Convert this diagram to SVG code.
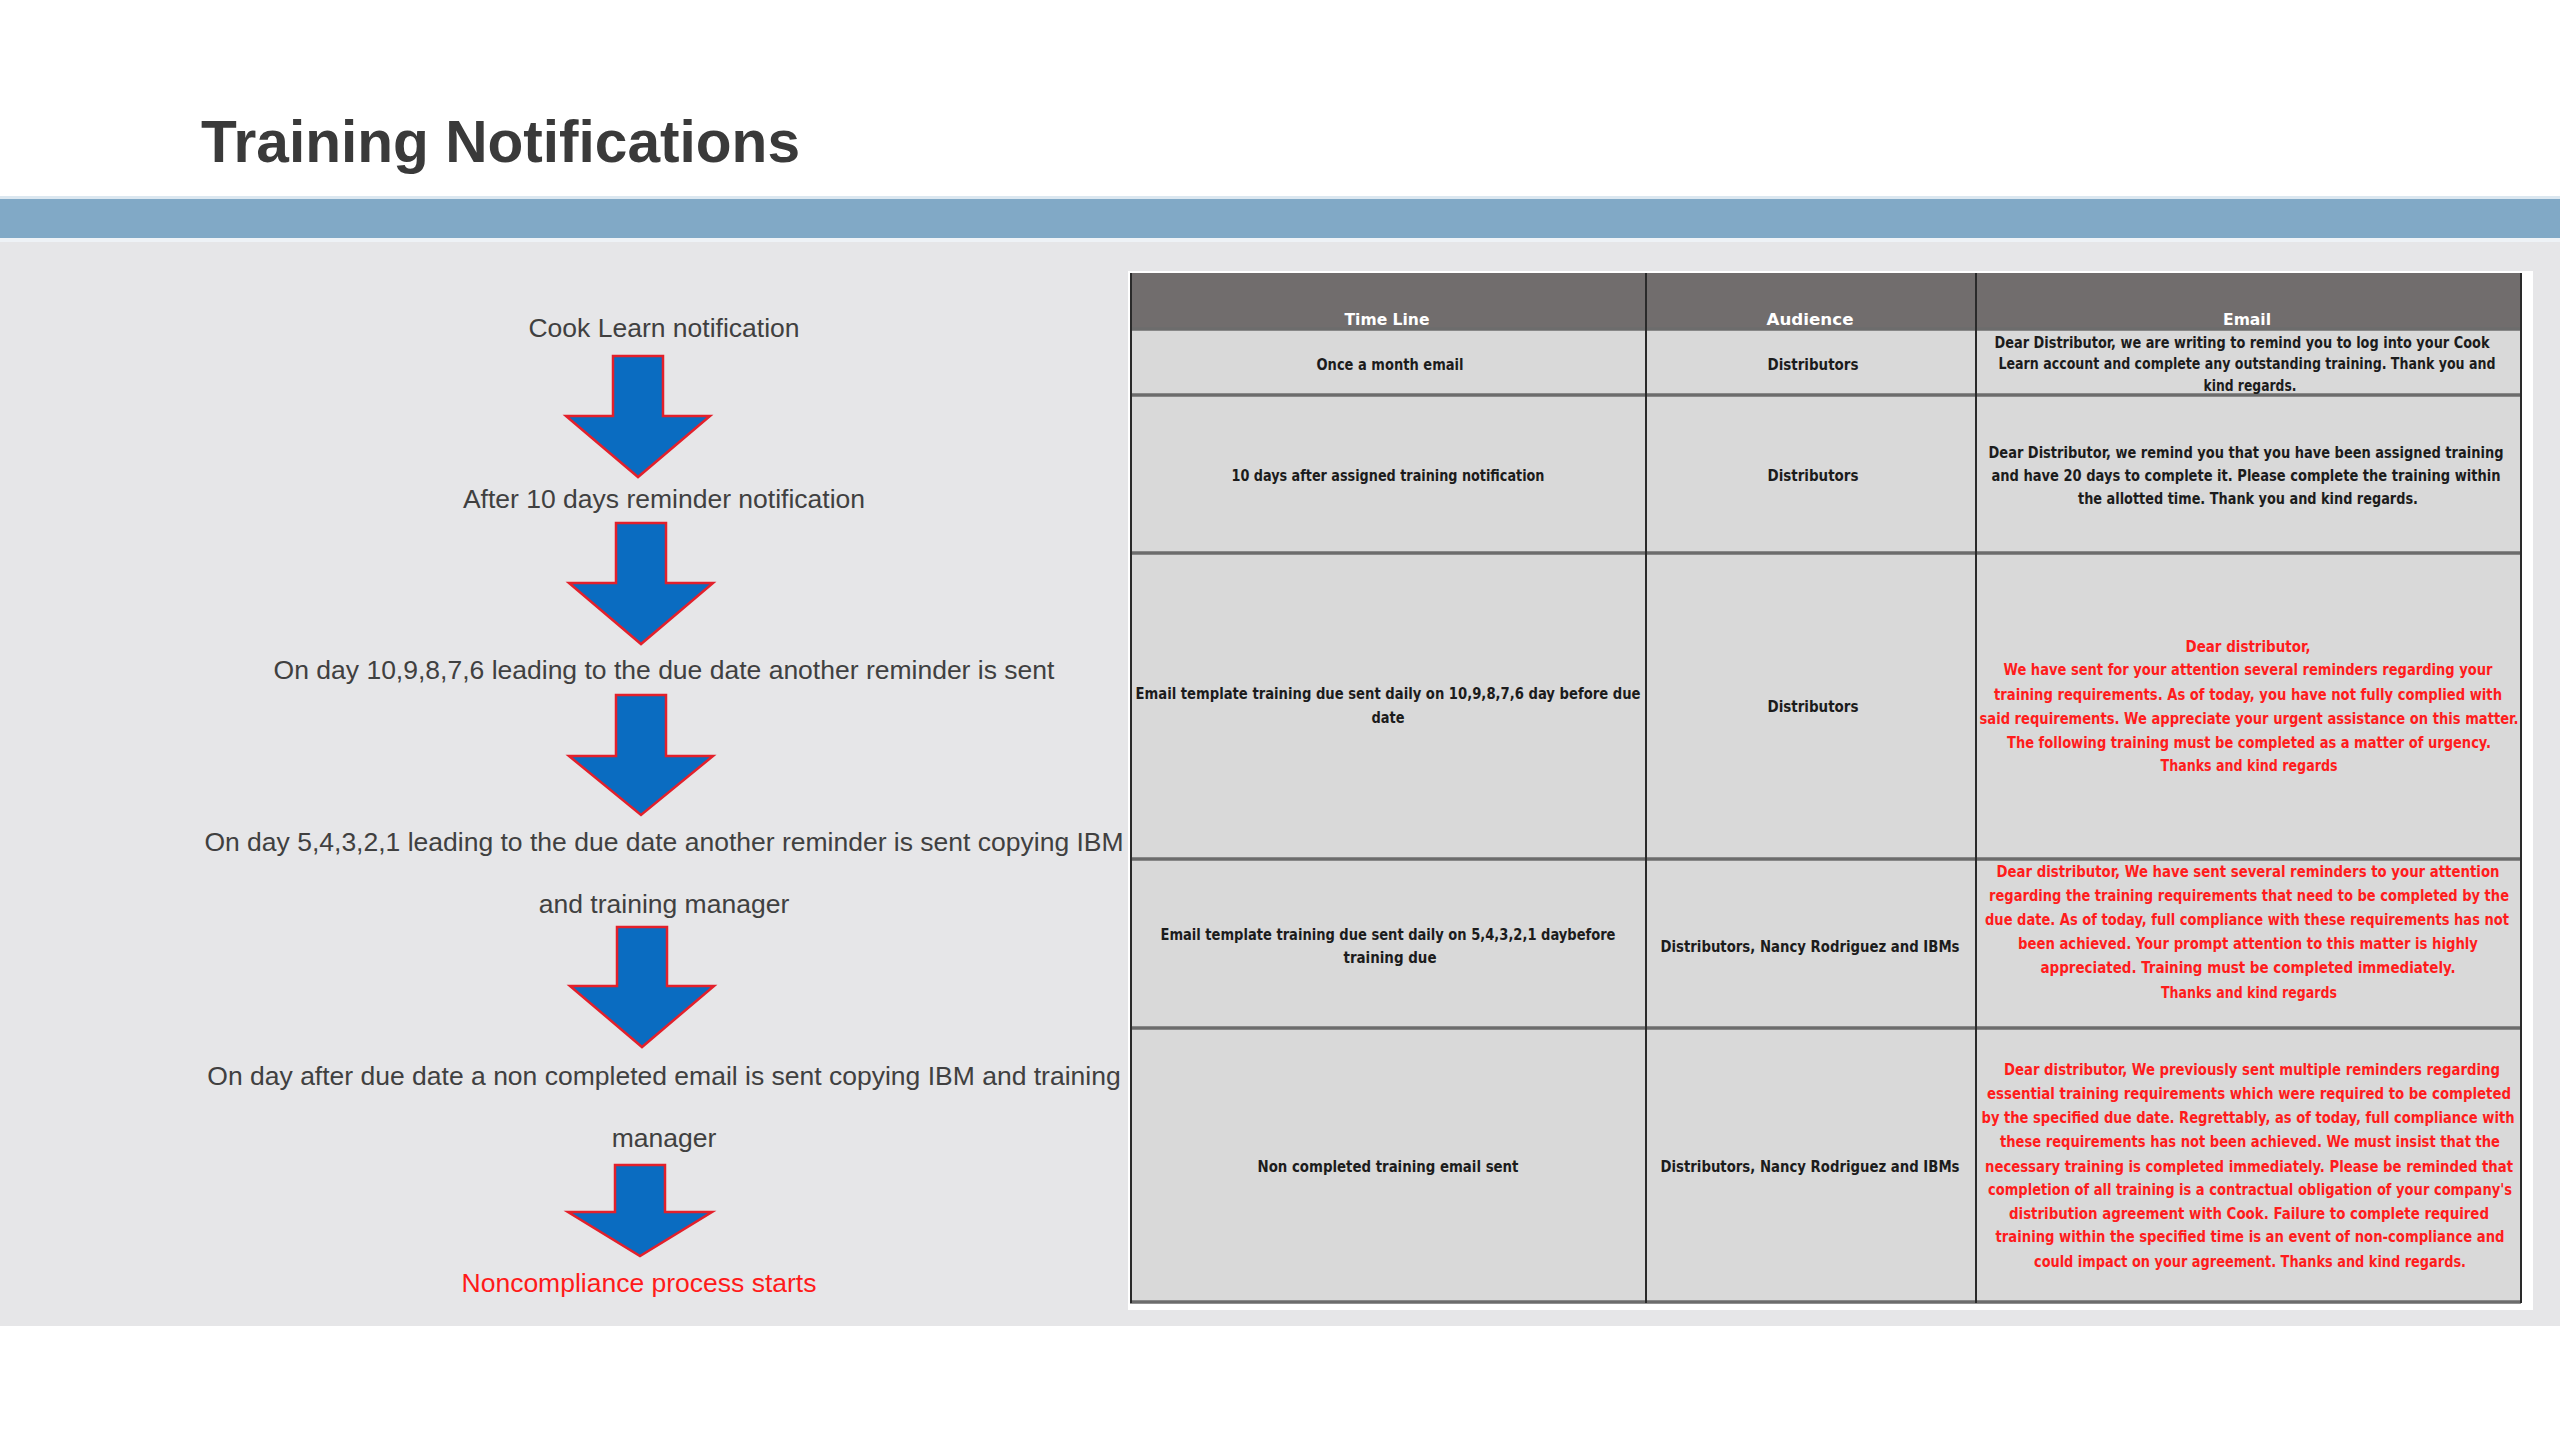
<svg xmlns="http://www.w3.org/2000/svg" width="2560" height="1440" viewBox="0 0 2560 1440">
<style>
.step{font-family:"Liberation Sans",Arial,sans-serif;font-size:26.5px;fill:#404040;text-anchor:middle}
.red{fill:#ff1a1a}
.arrow{fill:#0a6cc1;stroke:#e3202b;stroke-width:2.5;stroke-linejoin:miter}
.tb{font-family:"Liberation Sans Narrow","DejaVu Sans Condensed","Liberation Sans",sans-serif;font-weight:bold;font-size:15px;text-anchor:middle;fill:#1c1c1c}
.tb.r{fill:#ff1c1c}
.th{fill:#ffffff}
.rowline{stroke:#6c6c6c;stroke-width:3.5}
.colline{stroke:#2a2a2a;stroke-width:2}
</style>
<rect x="0" y="0" width="2560" height="1440" fill="#ffffff"/>
<g id="title">
<text x="201" y="162" font-family="Liberation Sans,Arial,sans-serif" font-weight="bold" font-size="58.5" fill="#3a3a3a" textLength="599" lengthAdjust="spacingAndGlyphs">Training Notifications</text>
</g>
<g id="band">
<rect x="0" y="196" width="2560" height="3" fill="#dbe7f0"/>
<rect x="0" y="199" width="2560" height="39" fill="#81a9c6"/>
<rect x="0" y="238" width="2560" height="4" fill="#eef2f6"/>
<rect x="0" y="242" width="2560" height="1084" fill="#e6e6e8"/>
</g>

<g id="steps">
<g id="step1"><text class="step" x="664" y="337">Cook Learn notification</text></g>
<g id="step2"><text class="step" x="664" y="508">After 10 days reminder notification</text></g>
<g id="step3"><text class="step" x="664" y="679">On day 10,9,8,7,6 leading to the due date another reminder is sent</text></g>
<g id="step4"><text class="step" x="664" y="851">On day 5,4,3,2,1 leading to the due date another reminder is sent copying IBM</text><text class="step" x="664" y="913">and training manager</text></g>
<g id="step5"><text class="step" x="664" y="1085">On day after due date a non completed email is sent copying IBM and training</text><text class="step" x="664" y="1147">manager</text></g>
<g id="step6"><text class="step red" x="639" y="1292">Noncompliance process starts</text></g>
</g>

<g id="connectors">
<path class="arrow" d="M613,356 H663 V416 H710 L638,477 L566,416 H613 Z"/>
<path class="arrow" d="M616,523 H666 V583 H713 L641,644 L569,583 H616 Z"/>
<path class="arrow" d="M616,695 H666 V756 H713 L641,815 L569,756 H616 Z"/>
<path class="arrow" d="M617,927 H667 V986 H714 L642,1047 L570,986 H617 Z"/>
<path class="arrow" d="M615,1165 H665 V1212 H712 L640,1256 L568,1212 H615 Z"/>
</g>

<g id="table">
<rect x="1128" y="271" width="1405" height="1039" fill="#ffffff"/>
<rect x="1130" y="273" width="1391" height="56" fill="#716d6d"/>
<rect x="1130" y="329" width="1391" height="973" fill="#d9d9d9"/>
<line class="rowline" x1="1130" y1="329" x2="2521" y2="329"/>
<line class="rowline" x1="1130" y1="395" x2="2521" y2="395"/>
<line class="rowline" x1="1130" y1="553" x2="2521" y2="553"/>
<line class="rowline" x1="1130" y1="859" x2="2521" y2="859"/>
<line class="rowline" x1="1130" y1="1028" x2="2521" y2="1028"/>
<line class="rowline" x1="1130" y1="1302" x2="2521" y2="1302"/>
<line class="colline" x1="1131" y1="273" x2="1131" y2="1303"/>
<line class="colline" x1="1646" y1="273" x2="1646" y2="1303"/>
<line class="colline" x1="1976" y1="273" x2="1976" y2="1303"/>
<line class="colline" x1="2521" y1="273" x2="2521" y2="1303"/>

<g id="header">
<text class="tb th" x="1387" y="325" textLength="85" lengthAdjust="spacingAndGlyphs">Time Line</text>
<text class="tb th" x="1810" y="325" textLength="87" lengthAdjust="spacingAndGlyphs">Audience</text>
<text class="tb th" x="2247" y="325" textLength="48" lengthAdjust="spacingAndGlyphs">Email</text>
</g>

<g id="row1">
<text class="tb" x="1390" y="370" textLength="147" lengthAdjust="spacingAndGlyphs">Once a month email</text>
<text class="tb" x="1813" y="370" textLength="91" lengthAdjust="spacingAndGlyphs">Distributors</text>
<text class="tb" x="2242" y="348" textLength="495" lengthAdjust="spacingAndGlyphs">Dear Distributor, we are writing to remind you to log  into your Cook</text>
<text class="tb" x="2247" y="369" textLength="497" lengthAdjust="spacingAndGlyphs">Learn account and complete any outstanding training. Thank you and</text>
<text class="tb" x="2250" y="391" textLength="93" lengthAdjust="spacingAndGlyphs">kind regards.</text>
</g>

<g id="row2">
<text class="tb" x="1388" y="481" textLength="313" lengthAdjust="spacingAndGlyphs">10 days after assigned training notification</text>
<text class="tb" x="1813" y="481" textLength="91" lengthAdjust="spacingAndGlyphs">Distributors</text>
<text class="tb" x="2246" y="458" textLength="515" lengthAdjust="spacingAndGlyphs">Dear Distributor, we remind you that you have been assigned training</text>
<text class="tb" x="2246" y="481" textLength="509" lengthAdjust="spacingAndGlyphs">and have 20 days to complete it. Please complete the training within</text>
<text class="tb" x="2248" y="504" textLength="340" lengthAdjust="spacingAndGlyphs">the allotted time. Thank you and kind regards.</text>
</g>

<g id="row3">
<text class="tb" x="1388" y="699" textLength="505" lengthAdjust="spacingAndGlyphs">Email template training due sent daily on  10,9,8,7,6 day before due</text>
<text class="tb" x="1388" y="723" textLength="33" lengthAdjust="spacingAndGlyphs">date</text>
<text class="tb" x="1813" y="712" textLength="91" lengthAdjust="spacingAndGlyphs">Distributors</text>
<text class="tb r" x="2248" y="652" textLength="125" lengthAdjust="spacingAndGlyphs">Dear distributor,</text>
<text class="tb r" x="2248" y="675" textLength="489" lengthAdjust="spacingAndGlyphs">We have sent for your attention several reminders regarding your</text>
<text class="tb r" x="2248" y="700" textLength="508" lengthAdjust="spacingAndGlyphs">training requirements. As of today, you have not fully complied with</text>
<text class="tb r" x="2249" y="724" textLength="539" lengthAdjust="spacingAndGlyphs">said requirements. We appreciate your urgent assistance on this matter.</text>
<text class="tb r" x="2249" y="748" textLength="484" lengthAdjust="spacingAndGlyphs">The following training must be completed as a matter of urgency.</text>
<text class="tb r" x="2249" y="771" textLength="177" lengthAdjust="spacingAndGlyphs">Thanks and kind regards</text>
</g>

<g id="row4">
<text class="tb" x="1388" y="940" textLength="455" lengthAdjust="spacingAndGlyphs">Email template training due sent daily on 5,4,3,2,1 daybefore</text>
<text class="tb" x="1390" y="963" textLength="93" lengthAdjust="spacingAndGlyphs">training due</text>
<text class="tb" x="1810" y="952" textLength="299" lengthAdjust="spacingAndGlyphs">Distributors, Nancy Rodriguez  and IBMs</text>
<text class="tb r" x="2248" y="877" textLength="503" lengthAdjust="spacingAndGlyphs">Dear distributor,  We have sent several reminders to your attention</text>
<text class="tb r" x="2249" y="901" textLength="520" lengthAdjust="spacingAndGlyphs">regarding the training requirements that need to be completed by the</text>
<text class="tb r" x="2247" y="925" textLength="524" lengthAdjust="spacingAndGlyphs">due date. As of today, full compliance with these requirements has not</text>
<text class="tb r" x="2248" y="949" textLength="460" lengthAdjust="spacingAndGlyphs">been achieved. Your prompt attention to this matter is highly</text>
<text class="tb r" x="2248" y="973" textLength="415" lengthAdjust="spacingAndGlyphs">appreciated. Training must be completed immediately.</text>
<text class="tb r" x="2249" y="998" textLength="176" lengthAdjust="spacingAndGlyphs">Thanks and kind regards</text>
</g>

<g id="row5">
<text class="tb" x="1388" y="1172" textLength="261" lengthAdjust="spacingAndGlyphs">Non completed training email sent</text>
<text class="tb" x="1810" y="1172" textLength="299" lengthAdjust="spacingAndGlyphs">Distributors, Nancy Rodriguez and IBMs</text>
<text class="tb r" x="2252" y="1075" textLength="496" lengthAdjust="spacingAndGlyphs">Dear distributor, We previously sent multiple reminders regarding</text>
<text class="tb r" x="2249" y="1099" textLength="524" lengthAdjust="spacingAndGlyphs">essential training requirements which were required to be completed</text>
<text class="tb r" x="2248" y="1123" textLength="533" lengthAdjust="spacingAndGlyphs">by the specified due date. Regrettably, as of today, full compliance with</text>
<text class="tb r" x="2250" y="1147" textLength="500" lengthAdjust="spacingAndGlyphs">these requirements has not been achieved. We must insist that the</text>
<text class="tb r" x="2249" y="1172" textLength="528" lengthAdjust="spacingAndGlyphs">necessary training is completed immediately. Please be reminded that</text>
<text class="tb r" x="2250" y="1195" textLength="524" lengthAdjust="spacingAndGlyphs">completion of all training is a contractual obligation of your company's</text>
<text class="tb r" x="2249" y="1219" textLength="480" lengthAdjust="spacingAndGlyphs">distribution agreement with Cook. Failure to complete required</text>
<text class="tb r" x="2250" y="1242" textLength="509" lengthAdjust="spacingAndGlyphs">training within the specified time is an event of non-compliance and</text>
<text class="tb r" x="2250" y="1267" textLength="432" lengthAdjust="spacingAndGlyphs">could impact on your agreement. Thanks and kind regards.</text>
</g>
</g>
</svg>
